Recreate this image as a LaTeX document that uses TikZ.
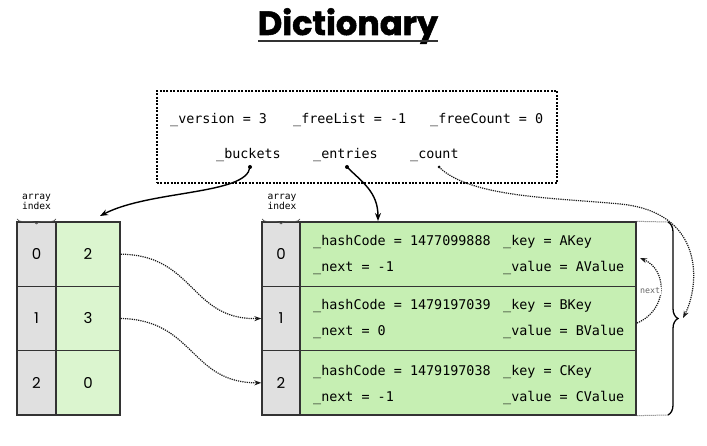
\documentclass[tikz,border=0pt]{standalone}
\usepackage{fontspec}
\setmonofont{DejaVu Sans Mono}
\newfontfamily\titlefont[BoldFeatures={FakeBold=1.6}]{Poppins}
\newfontfamily\digitfont{Poppins}
\usetikzlibrary{arrows.meta,decorations.pathreplacing}
\definecolor{cellgray}{HTML}{E0E0E0}
\definecolor{lightgreen}{HTML}{DBF5CF}
\definecolor{entrygreen}{HTML}{C6EFB3}
\definecolor{border}{HTML}{333333}
\tikzset{
  cellbox/.style={draw=border, line width=1.3pt, inner sep=0pt, minimum height=64.33pt},
  idxcell/.style={cellbox, fill=cellgray, font=\digitfont\fontsize{15}{15}\selectfont},
  bktcell/.style={cellbox, fill=lightgreen, minimum width=64pt, font=\digitfont\fontsize{15}{15}\selectfont},
  entcell/.style={cellbox, fill=entrygreen, minimum width=336pt},
  mono/.style={font=\ttfamily\fontsize{13.4}{13.4}\selectfont, inner sep=0pt, anchor=base west},
  small/.style={font=\ttfamily\fontsize{9.6}{9.2}\selectfont, align=center, inner sep=0pt},
  solidarrow/.style={line width=1.4pt, -{Stealth[length=8pt,width=6pt]}},
  dotarrow/.style={line width=1.2pt, dash pattern=on 1.2pt off 1pt, black!90, -{Stealth[length=7pt,width=5pt]}},
  startdot/.style={circle, fill=black, inner sep=0pt, minimum size=4pt},
}
\begin{document}
\begin{tikzpicture}[x=1pt,y=-1pt]
\useasboundingbox (0,0) rectangle (707,446);
% title
\node[font=\titlefont\bfseries\fontsize{33.5}{33.5}\selectfont, anchor=base, inner sep=0pt] (title) at (348,35) {Dictionary};
\draw[line width=2.4pt, black!80] (258,41) -- (438,41);
% dotted box
\node[draw, line width=2pt, dash pattern=on 2pt off 1.4pt, minimum width=400pt, minimum height=92pt, inner sep=0pt] (dict) at (357,137) {};
\node[mono] (version) at (170,124) {\_version = 3};
\node[mono] (freelist) at (293,124) {\_freeList = -1};
\node[mono] (freecount) at (430,124) {\_freeCount = 0};
\node[mono] (buckets) at (216,159) {\_buckets};
\node[mono] (entries) at (313,159) {\_entries};
\node[mono] (count) at (410,159) {\_count};
% buckets array
\node[idxcell, minimum width=39pt] (bi0) at (36.5,254.17) {0};
\node[idxcell, minimum width=39pt] (bi1) at (36.5,318.5) {1};
\node[idxcell, minimum width=39pt] (bi2) at (36.5,382.83) {2};
\node[bktcell] (b0) at (88,254.17) {2};
\node[bktcell] (b1) at (88,318.5) {3};
\node[bktcell] (b2) at (88,382.83) {0};
\node[small] (lab1) at (36.5,202) {array\\index};
\draw[decorate, decoration={brace, amplitude=5pt, mirror}, line width=0.7pt, black!70] (17,219) -- (56,219);
% entries array
\node[idxcell, minimum width=38pt] (ei0) at (281,254.17) {0};
\node[idxcell, minimum width=38pt] (ei1) at (281,318.5) {1};
\node[idxcell, minimum width=38pt] (ei2) at (281,382.83) {2};
\node[entcell] (e0) at (468,254.17) {};
\node[entcell] (e1) at (468,318.5) {};
\node[entcell] (e2) at (468,382.83) {};
\node[small] (lab2) at (282,202) {array\\index};
\draw[decorate, decoration={brace, amplitude=5pt, mirror}, line width=0.7pt, black!70] (262,219) -- (300,219);
% entry texts
\node[mono] (h0) at (313,246) {\_hashCode = 1477099888};
\node[mono] (n0) at (313,272) {\_next = -1};
\node[mono] (k0) at (503,246) {\_key = AKey};
\node[mono] (v0) at (503,272) {\_value = AValue};
\node[mono] (h1) at (313,310) {\_hashCode = 1479197039};
\node[mono] (n1) at (313,336) {\_next = 0};
\node[mono] (k1) at (503,310) {\_key = BKey};
\node[mono] (v1) at (503,336) {\_value = BValue};
\node[mono] (h2) at (313,375) {\_hashCode = 1479197038};
\node[mono] (n2) at (313,401) {\_next = -1};
\node[mono] (k2) at (503,375) {\_key = CKey};
\node[mono] (v2) at (503,401) {\_value = CValue};
% right brace
\coordinate (bt) at (668,222);
\coordinate (bb) at (668,415);
\draw[dash pattern=on 1pt off 1pt, line width=1pt, black!60] (e0.north east) -- (bt);
\draw[dash pattern=on 1pt off 1pt, line width=1pt, black!60] (e2.south east) -- (bb);
\draw[decorate, decoration={brace, amplitude=10pt}, line width=1.3pt] (bt) -- (bb);
\coordinate (btip) at (683,318);
% solid arrows
\node[startdot] (dbk) at (250,167) {};
\node[startdot] (den) at (347,167) {};
\node[startdot, minimum size=3pt] (dct) at (439,167) {};
\coordinate (bkend) at (100,216);
\coordinate (enend) at (378,221);
\draw[solidarrow] (dbk.center) .. controls (247,195) and (150,190) .. (bkend);
\draw[solidarrow] (den.center) .. controls (362,182) and (378,192) .. (enend);
% count dotted arrow
\draw[dotarrow] (dct.center) .. controls (470,198) and (560,198) .. (620,204) .. controls (705,212) and (700,285) .. (btip);
% bucket -> entries
\draw[dotarrow] (b0.east) .. controls (195,255) and (190,320) .. (ei1.west);
\draw[dotarrow] (b1.east) .. controls (195,320) and (190,383) .. (ei2.west);
% next arrow
\coordinate (nstart) at (637,323);
\coordinate (nend) at (640,258);
\draw[dotarrow] (nstart) .. controls (668,310) and (668,270) .. (nend);
\node[font=\ttfamily\fontsize{8.3}{8.3}\selectfont, text=black!60, fill=white, inner sep=0.8pt] (nextlab) at (650,291) {next};
\end{tikzpicture}
\end{document}
